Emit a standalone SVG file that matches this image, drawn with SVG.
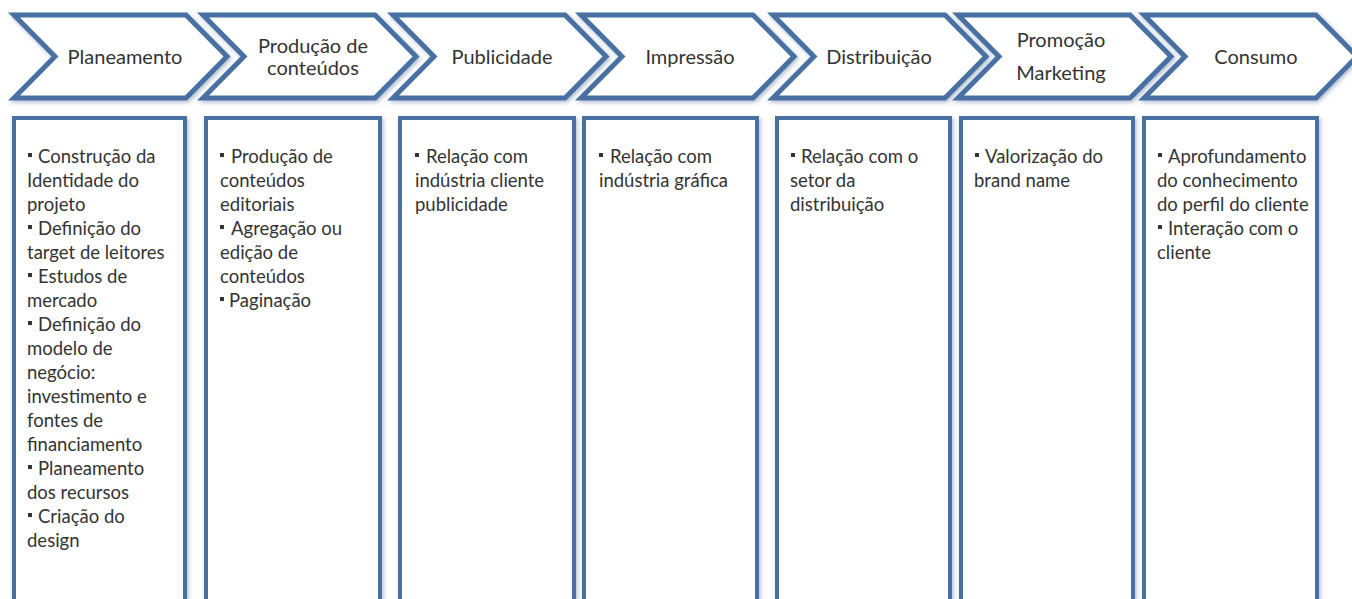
<svg xmlns="http://www.w3.org/2000/svg" width="1352" height="599" viewBox="0 0 1352 599">
<defs>
<filter id="sh" x="-10%" y="-20%" width="120%" height="140%">
<feDropShadow dx="1.5" dy="2" stdDeviation="2" flood-color="#8fa3bd" flood-opacity="0.7"/>
</filter>
<style>
.chev{fill:#fff;stroke:#4a70a3;stroke-width:5;stroke-linejoin:miter;filter:url(#sh)}
.box{fill:#fff;stroke:#4a70a3;stroke-width:4;filter:url(#sh)}
.hd{font-family:Lato,"Liberation Sans",sans-serif;font-size:20px;fill:#333;text-anchor:middle}
.tx{font-family:Lato,"Liberation Sans",sans-serif;font-size:18.5px;fill:#333}
.bl{fill:#333}
</style>
</defs>
<rect width="1352" height="599" fill="#fff"/>
<g id="stages">
<g id="planeamento"><path class="chev" d="M14,15 H186 L227,56.5 L186,98 H14 L55,56.5 Z"/><text class="hd" x="125" y="64">Planeamento</text></g>
<g id="producao"><path class="chev" d="M203,15 H375 L416,56.5 L375,98 H203 L244,56.5 Z"/><text class="hd" x="313" y="53">Produção de</text><text class="hd" x="313" y="75">conteúdos</text></g>
<g id="publicidade"><path class="chev" d="M393,15 H565 L606,56.5 L565,98 H393 L434,56.5 Z"/><text class="hd" x="502" y="64">Publicidade</text></g>
<g id="impressao"><path class="chev" d="M581,15 H753 L794,56.5 L753,98 H581 L622,56.5 Z"/><text class="hd" x="690" y="64">Impressão</text></g>
<g id="distribuicao"><path class="chev" d="M773,15 H945 L986,56.5 L945,98 H773 L814,56.5 Z"/><text class="hd" x="879" y="64">Distribuição</text></g>
<g id="promocao"><path class="chev" d="M958,15 H1130 L1171,56.5 L1130,98 H958 L999,56.5 Z"/><text class="hd" x="1061" y="47">Promoção</text><text class="hd" x="1061" y="80">Marketing</text></g>
<g id="consumo"><path class="chev" d="M1144,15 H1316 L1357,56.5 L1316,98 H1144 L1185,56.5 Z"/><text class="hd" x="1256" y="64">Consumo</text></g>
</g>
<g id="details">
<g id="box-planeamento"><rect class="box" x="14" y="118" width="171" height="520"/>
<rect class="bl" x="28" y="153" width="4" height="4"/><text class="tx" x="38" y="163">Construção da</text>
<text class="tx" x="27" y="187">Identidade do</text>
<text class="tx" x="27" y="211">projeto</text>
<rect class="bl" x="28" y="225" width="4" height="4"/><text class="tx" x="38" y="235">Definição do</text>
<text class="tx" x="27" y="259">target de leitores</text>
<rect class="bl" x="28" y="273" width="4" height="4"/><text class="tx" x="38" y="283">Estudos de</text>
<text class="tx" x="27" y="307">mercado</text>
<rect class="bl" x="28" y="321" width="4" height="4"/><text class="tx" x="38" y="331">Definição do</text>
<text class="tx" x="27" y="355">modelo de</text>
<text class="tx" x="27" y="379">negócio:</text>
<text class="tx" x="27" y="403">investimento e</text>
<text class="tx" x="27" y="427">fontes de</text>
<text class="tx" x="27" y="451">financiamento</text>
<rect class="bl" x="28" y="465" width="4" height="4"/><text class="tx" x="38" y="475">Planeamento</text>
<text class="tx" x="27" y="499">dos recursos</text>
<rect class="bl" x="28" y="513" width="4" height="4"/><text class="tx" x="38" y="523">Criação do</text>
<text class="tx" x="27" y="547">design</text>
</g>
<g id="box-producao"><rect class="box" x="206" y="118" width="174" height="520"/>
<rect class="bl" x="220" y="153" width="4" height="4"/><text class="tx" x="231" y="163">Produção de</text>
<text class="tx" x="220" y="187">conteúdos</text>
<text class="tx" x="220" y="211">editoriais</text>
<rect class="bl" x="220" y="225" width="4" height="4"/><text class="tx" x="231" y="235">Agregação ou</text>
<text class="tx" x="220" y="259">edição de</text>
<text class="tx" x="220" y="283">conteúdos</text>
<rect class="bl" x="220" y="297" width="4" height="4"/><text class="tx" x="229" y="307">Paginação</text>
</g>
<g id="box-publicidade"><rect class="box" x="400" y="118" width="174" height="520"/>
<rect class="bl" x="415" y="153" width="4" height="4"/><text class="tx" x="426" y="163">Relação com</text>
<text class="tx" x="415" y="187">indústria cliente</text>
<text class="tx" x="415" y="211">publicidade</text>
</g>
<g id="box-impressao"><rect class="box" x="584" y="118" width="173" height="520"/>
<rect class="bl" x="599" y="153" width="4" height="4"/><text class="tx" x="610" y="163">Relação com</text>
<text class="tx" x="599" y="187">indústria gráfica</text>
</g>
<g id="box-distribuicao"><rect class="box" x="777" y="118" width="173" height="520"/>
<rect class="bl" x="791" y="153" width="4" height="4"/><text class="tx" x="801" y="163">Relação com o</text>
<text class="tx" x="790" y="187">setor da</text>
<text class="tx" x="790" y="211">distribuição</text>
</g>
<g id="box-promocao"><rect class="box" x="961" y="118" width="172" height="520"/>
<rect class="bl" x="975" y="153" width="4" height="4"/><text class="tx" x="985" y="163">Valorização do</text>
<text class="tx" x="974" y="187">brand name</text>
</g>
<g id="box-consumo"><rect class="box" x="1144" y="118" width="173" height="520"/>
<rect class="bl" x="1158" y="153" width="4" height="4"/><text class="tx" x="1168" y="163">Aprofundamento</text>
<text class="tx" x="1157" y="187">do conhecimento</text>
<text class="tx" x="1157" y="211">do perfil do cliente</text>
<rect class="bl" x="1158" y="225" width="4" height="4"/><text class="tx" x="1168" y="235">Interação com o</text>
<text class="tx" x="1157" y="259">cliente</text>
</g>
</g>
</svg>
